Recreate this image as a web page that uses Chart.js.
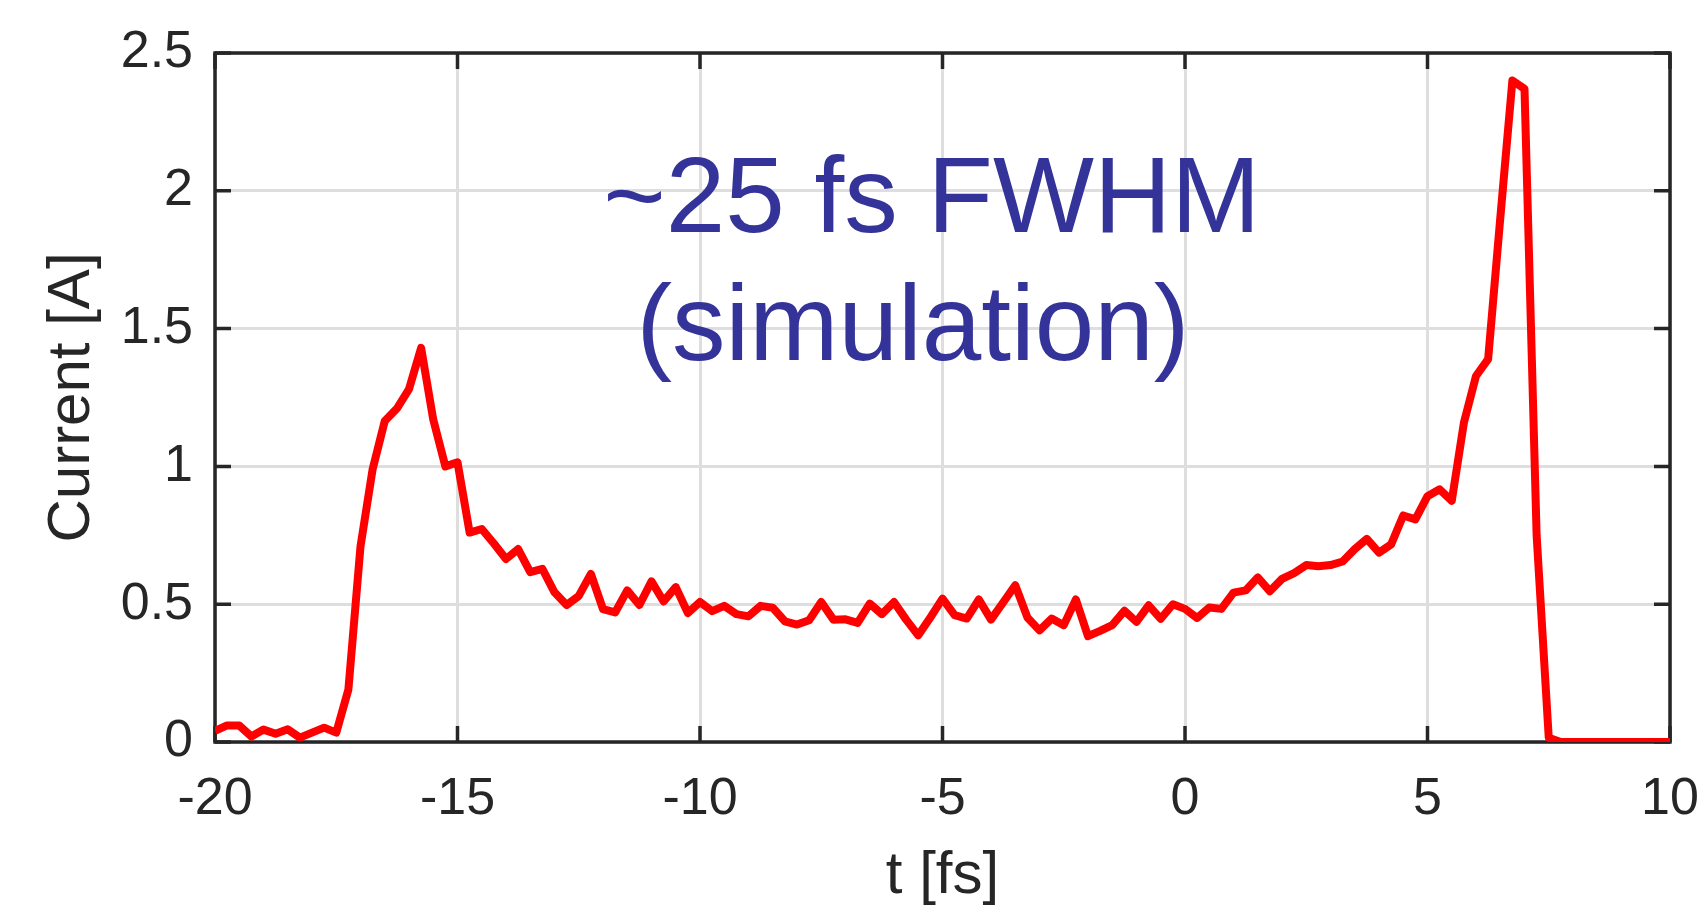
<!DOCTYPE html>
<html>
<head>
<meta charset="utf-8">
<script src="https://cdn.jsdelivr.net/npm/chart.js@4.4.1/dist/chart.umd.min.js"></script>
<style>
html, body { margin: 0; padding: 0; background: #fff; }
#wrap { width: 1700px; height: 906px; }
</style>
</head>
<body>
<div id="wrap"><canvas id="myChart" width="1700" height="906"></canvas></div>
<script>
// time axis [fs]
const times = [
  -20, -19.75, -19.5, -19.25, -19, -18.75, -18.5, -18.25, -18, -17.75,
  -17.5, -17.25, -17, -16.75, -16.5, -16.25, -16, -15.75, -15.5, -15.25,
  -15, -14.75, -14.5, -14.25, -14, -13.75, -13.5, -13.25, -13, -12.75,
  -12.5, -12.25, -12, -11.75, -11.5, -11.25, -11, -10.75, -10.5, -10.25,
  -10, -9.75, -9.5, -9.25, -9, -8.75, -8.5, -8.25, -8, -7.75,
  -7.5, -7.25, -7, -6.75, -6.5, -6.25, -6, -5.75, -5.5, -5.25,
  -5, -4.75, -4.5, -4.25, -4, -3.75, -3.5, -3.25, -3, -2.75,
  -2.5, -2.25, -2, -1.75, -1.5, -1.25, -1, -0.75, -0.5, -0.25,
  0, 0.25, 0.5, 0.75, 1, 1.25, 1.5, 1.75, 2, 2.25,
  2.5, 2.75, 3, 3.25, 3.5, 3.75, 4, 4.25, 4.5, 4.75,
  5, 5.25, 5.5, 5.75, 6, 6.25, 6.5, 6.75, 7, 7.25,
  7.5, 7.75, 8, 8.25, 8.5, 8.75, 9, 9.25, 9.5, 9.75,
  10
];

// current [A]
const current = [
  0.04, 0.06, 0.06, 0.02, 0.045, 0.03, 0.046, 0.016, 0.034, 0.052,
  0.034, 0.19, 0.71, 0.99, 1.165, 1.21, 1.28, 1.43, 1.17, 1.0,
  1.015, 0.76, 0.773, 0.72, 0.664, 0.70, 0.616, 0.628, 0.543, 0.497,
  0.53, 0.61, 0.482, 0.47, 0.55, 0.497, 0.583, 0.51, 0.562, 0.468,
  0.508, 0.475, 0.494, 0.464, 0.456, 0.494, 0.487, 0.438, 0.426, 0.442,
  0.508, 0.444, 0.445, 0.432, 0.502, 0.464, 0.508, 0.444, 0.387, 0.452,
  0.52, 0.46, 0.448, 0.517, 0.444, 0.506, 0.569, 0.452, 0.405, 0.448,
  0.424, 0.517, 0.384, 0.403, 0.424, 0.476, 0.436, 0.496, 0.447, 0.5,
  0.483, 0.45, 0.488, 0.483, 0.542, 0.55, 0.597, 0.547, 0.592, 0.613,
  0.642, 0.638, 0.642, 0.655, 0.70, 0.737, 0.687, 0.717, 0.822, 0.808,
  0.892, 0.917, 0.875, 1.158, 1.328, 1.389, 1.9, 2.40, 2.37, 0.75,
  0.015, 0, 0, 0, 0, 0, 0, 0, 0, 0,
  0
];

const xTicks = [-20, -15, -10, -5, 0, 5, 10];
const yTicks = [0, 0.5, 1, 1.5, 2, 2.5];

// annotation lines: text, centre t, baseline current
const noteText = ['~25 fs FWHM', '(simulation)'];
const noteT = [-5.22, -5.61];
const noteY = [1.851, 1.385];

const FONT = '"Liberation Sans", Arial, sans-serif';
const AXIS = '#262626';

const boxPlugin = {
  id: 'box',
  beforeDatasetsDraw(chart) {
    const { ctx, chartArea: a, scales: { x, y } } = chart;
    const tl = 16;
    ctx.save();
    ctx.strokeStyle = AXIS;
    ctx.lineWidth = 3.5;
    ctx.beginPath();
    xTicks.forEach(v => {
      const px = x.getPixelForValue(v);
      ctx.moveTo(px, a.bottom); ctx.lineTo(px, a.bottom - tl);
      ctx.moveTo(px, a.top); ctx.lineTo(px, a.top + tl);
    });
    yTicks.forEach(v => {
      const py = y.getPixelForValue(v);
      ctx.moveTo(a.left, py); ctx.lineTo(a.left + tl, py);
      ctx.moveTo(a.right, py); ctx.lineTo(a.right - tl, py);
    });
    ctx.stroke();
    ctx.strokeRect(a.left, a.top, a.width, a.height);

    ctx.fillStyle = '#333399';
    ctx.font = '107px ' + FONT;
    ctx.textAlign = 'center';
    ctx.textBaseline = 'alphabetic';
    noteText.forEach((t, i) => {
      ctx.fillText(t, x.getPixelForValue(noteT[i]), y.getPixelForValue(noteY[i]));
    });
    ctx.restore();
  }
};

new Chart(document.getElementById('myChart'), {
  type: 'line',
  data: {
    datasets: [{
      data: times.map((t, i) => ({ x: t, y: current[i] })),
      borderColor: '#ff0000',
      borderWidth: 8,
      borderJoinStyle: 'round',
      pointRadius: 0,
      tension: 0,
      fill: false
    }]
  },
  options: {
    responsive: false,
    animation: false,
    layout: { padding: { top: 53, right: 30, left: 0, bottom: 0 } },
    plugins: { legend: { display: false }, tooltip: { enabled: false } },
    scales: {
      x: {
        type: 'linear',
        min: -20,
        max: 10,
        afterBuildTicks: s => { s.ticks = xTicks.map(v => ({ value: v })); },
        afterFit: s => { s.height = 164; s.paddingLeft = 0; s.paddingRight = 0; },
        grid: { color: '#dedede', lineWidth: 3, drawTicks: false },
        border: { display: false },
        ticks: {
          color: AXIS,
          font: { family: FONT, size: 52 },
          padding: 26,
          maxRotation: 0,
          callback: v => String(v)
        },
        title: {
          display: true,
          text: 't [fs]',
          color: AXIS,
          font: { family: FONT, size: 60, lineHeight: 1 },
          padding: 0
        }
      },
      y: {
        min: 0,
        max: 2.5,
        afterBuildTicks: s => { s.ticks = yTicks.map(v => ({ value: v })); },
        afterFit: s => { s.width = 215; s.paddingTop = 0; s.paddingBottom = 0; },
        grid: { color: '#dedede', lineWidth: 3, drawTicks: false },
        border: { display: false },
        ticks: {
          color: AXIS,
          font: { family: FONT, size: 52 },
          padding: 22,
          callback: v => String(v)
        },
        title: {
          display: true,
          text: 'Current [A]',
          color: AXIS,
          font: { family: FONT, size: 60, lineHeight: 1.2 },
          padding: { top: 36, bottom: 0 }
        }
      }
    }
  },
  plugins: [boxPlugin]
});
</script>
</body>
</html>
